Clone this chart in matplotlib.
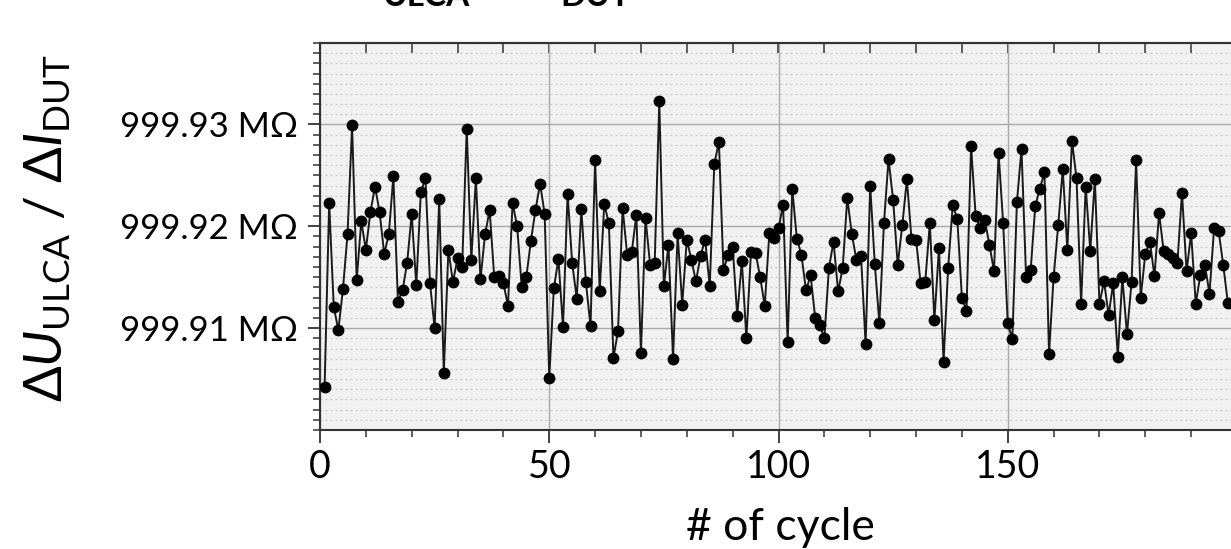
import matplotlib
matplotlib.use("Agg")
import matplotlib.pyplot as plt
from matplotlib.ticker import MultipleLocator, FuncFormatter

plt.rcParams['font.family'] = ['Lato', 'DejaVu Sans']
plt.rcParams['mathtext.fontset'] = 'custom'
plt.rcParams['mathtext.rm'] = 'Lato'
plt.rcParams['mathtext.it'] = 'Lato:italic'
plt.rcParams['mathtext.bf'] = 'Lato:bold'

cycles = list(range(1, 199))
values = [
    999.9042, 999.9223, 999.9121, 999.9098, 999.9138, 999.9192, 999.9299, 999.9147, 999.9205, 999.9177,
    999.9214, 999.9239, 999.9214, 999.9173, 999.9192, 999.9249, 999.9126, 999.9137, 999.9164, 999.9212,
    999.9142, 999.9234, 999.9247, 999.9144, 999.9100, 999.9227, 999.9056, 999.9177, 999.9145, 999.9169,
    999.9160, 999.9296, 999.9167, 999.9247, 999.9148, 999.9192, 999.9216, 999.9150, 999.9151, 999.9144,
    999.9122, 999.9223, 999.9200, 999.9140, 999.9150, 999.9186, 999.9216, 999.9242, 999.9212, 999.9051,
    999.9139, 999.9168, 999.9101, 999.9232, 999.9164, 999.9129, 999.9217, 999.9145, 999.9102, 999.9265,
    999.9136, 999.9222, 999.9203, 999.9071, 999.9097, 999.9218, 999.9172, 999.9175, 999.9211, 999.9076,
    999.9208, 999.9162, 999.9164, 999.9323, 999.9141, 999.9182, 999.9070, 999.9193, 999.9123, 999.9187,
    999.9167, 999.9146, 999.9171, 999.9187, 999.9141, 999.9261, 999.9283, 999.9157, 999.9172, 999.9180,
    999.9112, 999.9166, 999.9090, 999.9175, 999.9174, 999.9150, 999.9122, 999.9193, 999.9189, 999.9198,
    999.9221, 999.9086, 999.9237, 999.9188, 999.9172, 999.9137, 999.9152, 999.9110, 999.9103, 999.9090,
    999.9159, 999.9185, 999.9136, 999.9159, 999.9228, 999.9192, 999.9167, 999.9171, 999.9084, 999.9240,
    999.9163, 999.9105, 999.9203, 999.9266, 999.9226, 999.9162, 999.9201, 999.9246, 999.9188, 999.9187,
    999.9144, 999.9145, 999.9203, 999.9108, 999.9179, 999.9067, 999.9159, 999.9221, 999.9207, 999.9130,
    999.9117, 999.9279, 999.9210, 999.9198, 999.9206, 999.9182, 999.9156, 999.9272, 999.9203, 999.9105,
    999.9089, 999.9224, 999.9276, 999.9150, 999.9157, 999.9220, 999.9237, 999.9253, 999.9075, 999.9150,
    999.9201, 999.9256, 999.9177, 999.9284, 999.9247, 999.9124, 999.9239, 999.9176, 999.9246, 999.9124,
    999.9146, 999.9113, 999.9144, 999.9072, 999.9150, 999.9094, 999.9145, 999.9265, 999.9130, 999.9173,
    999.9185, 999.9151, 999.9213, 999.9176, 999.9173, 999.9169, 999.9164, 999.9233, 999.9156, 999.9193,
    999.9124, 999.9152, 999.9162, 999.9134, 999.9198, 999.9195, 999.9162, 999.9125,
]
y_major_ticks = [999.91, 999.92, 999.93]
x_major_ticks = [0, 50, 100, 150]

W, H = 1231, 549
fig = plt.figure(figsize=(W / 100, H / 100), dpi=100)
ax = fig.add_axes([320 / W, (H - 430) / H, 917 / W, 387 / H])
ax.set_facecolor('#f1f1f1')

ax.plot(cycles, values, color='#1a1a1a', lw=1.4, marker='o', ms=7.5,
        mfc='black', mec='black', zorder=3)

ax.set_xlim(0, 200)
ax.set_ylim(999.900, 999.938)

ax.set_xticks(x_major_ticks)
ax.xaxis.set_minor_locator(MultipleLocator(10))
ax.set_yticks(y_major_ticks)
ax.yaxis.set_minor_locator(MultipleLocator(0.001))
ax.yaxis.set_major_formatter(FuncFormatter(lambda v, p: f"{v:.2f} M\u03a9"))

ax.grid(which='major', color='#a8a8a8', lw=1.0, ls='-', zorder=0)
ax.grid(which='minor', axis='y', color='#c4c4c4', lw=0.9, ls=(0, (1.5, 2.5)), zorder=0)
ax.set_axisbelow(True)

for s in ['left', 'bottom', 'top', 'right']:
    ax.spines[s].set_color('#333333')
    ax.spines[s].set_linewidth(1.5)

ax.tick_params(axis='x', which='major', direction='out', length=9, width=1.3,
               color='#333333', labelsize=27, pad=5)
ax.tick_params(axis='x', which='minor', direction='out', length=5, width=1.1,
               color='#333333')
ax.tick_params(axis='y', which='major', direction='out', length=9, width=1.3,
               color='#333333', labelsize=25, pad=7)
ax.tick_params(axis='y', which='minor', direction='out', length=5, width=1.1,
               color='#333333')

# top ticks pointing inward
top = ax.secondary_xaxis('top')
top.set_xticks(x_major_ticks)
top.xaxis.set_minor_locator(MultipleLocator(10))
top.tick_params(which='major', direction='in', length=7, width=1.2, color='#333333', labeltop=False)
top.tick_params(which='minor', direction='in', length=7, width=1.1, color='#333333')
top.spines['top'].set_color('#333333')
top.spines['top'].set_linewidth(1.5)

fig.text(780 / W, 1 - 540 / H, "# of cycle", fontsize=32, ha='center', va='baseline')
fig.text(48 / W, 1 - 228 / H, "\u0394$U_{\\mathrm{ULCA}}$ / \u0394$I_{\\mathrm{DUT}}$",
         fontsize=38, rotation=90, ha='center', va='center')

# title (mostly outside the canvas; only the subscripts' lower part shows)
fig.text(383 / W, 1 - 6 / H, "ULCA", fontsize=24, fontweight='bold', ha='left', va='baseline')
fig.text(560 / W, 1 - 6 / H, "DUT", fontsize=24, fontweight='bold', ha='left', va='baseline')

fig.savefig('out.png', dpi=100)
